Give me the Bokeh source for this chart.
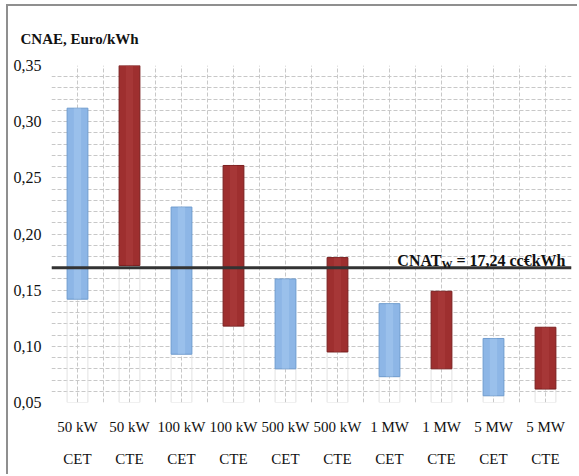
from bokeh.plotting import figure
from bokeh.models import (FixedTicker, CustomJSTickFormatter, LinearAxis, Span,
                          Label, Range1d, ColumnDataSource)
from bokeh.embed import file_html
from bokeh.resources import INLINE

# ---- data ----
sizes = ["50 kW", "50 kW", "100 kW", "100 kW", "500 kW", "500 kW",
         "1 MW", "1 MW", "5 MW", "5 MW"]
types = ["CET", "CTE", "CET", "CTE", "CET", "CTE", "CET", "CTE", "CET", "CTE"]
lows = [0.142, 0.172, 0.093, 0.118, 0.080, 0.095, 0.073, 0.080, 0.056, 0.062]
highs = [0.312, 0.350, 0.224, 0.261, 0.160, 0.179, 0.138, 0.149, 0.107, 0.117]
y_ticks = [0.05, 0.10, 0.15, 0.20, 0.25, 0.30, 0.35]
y_min, y_max = 0.05, 0.35
cnat_value = 0.17
cnat_text_main = "CNAT"
cnat_text_sub = "W"
cnat_text_rest = "= 17,24 cc€kWh"
title_text = "CNAE, Euro/kWh"

type_colors = {"CET": "#8DB6E6", "CTE": "#9E2F2F"}
type_lines = {"CET": "#6F9CCF", "CTE": "#7A1F1F"}
type_high = {"CET": "#B5D3F3", "CTE": "#B44848"}

n = len(sizes)
xs = list(range(n))
src = ColumnDataSource(dict(
    x=xs, low=lows, high=highs, base=[y_min] * n,
    fill=[type_colors[t] for t in types],
    line=[type_lines[t] for t in types],
    hi=[type_high[t] for t in types],
))

FONT = "Liberation Serif"

p = figure(width=571, height=470, output_backend="svg", toolbar_location=None,
           x_range=Range1d(-0.5, n - 0.5), y_range=Range1d(y_min, y_max),
           min_border_left=43, min_border_right=8, min_border_top=59,
           min_border_bottom=74, background_fill_color="white",
           border_fill_color="white", outline_line_color=None)
p.styles = {"margin-left": "6px", "margin-top": "4px",
            "border-top": "2px solid #8f8f8f", "border-left": "2px solid #8f8f8f"}

# title
p.title.text = title_text
p.title.text_font = FONT
p.title.text_font_size = "15px"
p.title.text_font_style = "bold"
p.title.text_color = "#111111"
p.title.align = "left"
p.title.offset = -31
p.title.standoff = 37

# grids
p.xgrid.ticker = FixedTicker(ticks=[i * 0.5 - 0.5 for i in range(2 * n + 1)])
p.ygrid.ticker = FixedTicker(ticks=[round(y_min + 0.01 * i, 2) for i in range(31)])
for g in (p.xgrid, p.ygrid):
    g.grid_line_color = "#c8c8c8"
    g.grid_line_dash = "4 2"
    g.grid_line_width = 1

# y axis
yax = p.yaxis[0]
yax.ticker = FixedTicker(ticks=y_ticks)
yax.formatter = CustomJSTickFormatter(code="return tick.toFixed(2).replace('.', ',');")
yax.axis_line_color = None
yax.major_tick_line_color = None
yax.minor_tick_line_color = None
yax.major_label_standoff = 4
yax.major_label_text_font = FONT
yax.major_label_text_font_size = "16px"
yax.major_label_text_color = "#111111"

# x axes (two rows)
xax = p.xaxis[0]
xax.ticker = FixedTicker(ticks=xs)
xax.major_label_overrides = {i: sizes[i] for i in xs}
xax2 = LinearAxis(ticker=FixedTicker(ticks=xs),
                  major_label_overrides={i: types[i] for i in xs})
p.add_layout(xax2, "below")
for ax, so in ((xax, 10), (xax2, 7)):
    ax.axis_line_color = None
    ax.major_tick_line_color = None
    ax.minor_tick_line_color = None
    ax.major_label_standoff = so
    ax.major_label_text_font = FONT
    ax.major_label_text_font_size = "15px"
    ax.major_label_text_color = "#111111"

# faint base bars
p.vbar(x="x", top="low", bottom="base", width=0.4, source=src,
       fill_color=None, line_color="#e2e2e2", line_width=1)
# main bars
p.vbar(x="x", top="high", bottom="low", width=0.4, source=src,
       fill_color="fill", line_color="line", line_width=1)
p.vbar(x="x", top="high", bottom="low", width=0.14, source=src,
       fill_color="hi", fill_alpha=0.35, line_color=None)

# CNAT line
p.add_layout(Span(location=cnat_value, dimension="width",
                  line_color="#333333", line_width=3))

common = dict(x=n - 0.5, y=cnat_value, x_units="data", y_units="data",
              text_font=FONT, text_font_style="bold", text_color="#111111",
              text_align="right", text_baseline="alphabetic")
p.add_layout(Label(text=cnat_text_rest, x_offset=-6, y_offset=7,
                   text_font_size="16px", **common))
p.add_layout(Label(text=cnat_text_sub, x_offset=-119, y_offset=4,
                   text_font_size="11px", **common))
p.add_layout(Label(text=cnat_text_main, x_offset=-130, y_offset=7,
                   text_font_size="16px", **common))

open("out.html", "w").write(file_html(p, INLINE))
